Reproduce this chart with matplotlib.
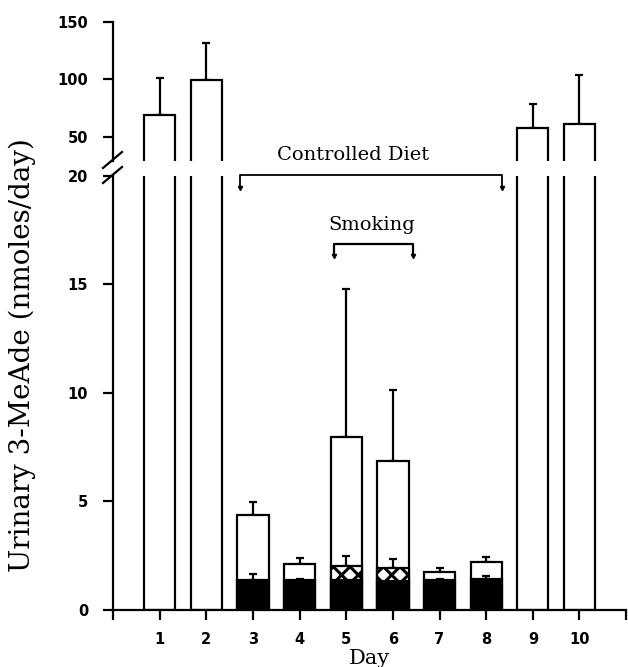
import numpy as np
import matplotlib.pyplot as plt
from matplotlib.lines import Line2D

# Days with the high (top panel) values
days_high = [1, 2, 9, 10]
high_mean = [68.7, 99.7, 57.4, 60.9]
high_err = [32.4, 32.2, 20.9, 42.8]

# Controlled diet days
days_diet = [3, 4, 5, 6, 7, 8]
total_mean = [4.39, 2.13, 7.97, 6.88, 1.77, 2.20]
total_err = [0.57, 0.28, 6.82, 3.26, 0.18, 0.24]
black_mean = [1.37, 1.37, 1.40, 1.35, 1.37, 1.44]
black_err = [0.29, 0.05, 0.0, 0.0, 0.05, 0.14]

# Smoking days (hatched part)
days_smoke = [5, 6]
hatch_mean = [2.04, 1.92]
hatch_err = [0.43, 0.43]

xticks = list(range(0, 12))
xlabels = ["", "1", "2", "3", "4", "5", "6", "7", "8", "9", "10", ""]

plt.rcParams["hatch.linewidth"] = 2.2

fig = plt.figure(figsize=(6.28, 6.67), dpi=100)
ax_top = fig.add_axes([0.180, 0.7586, 0.817, 0.2084])
ax_bot = fig.add_axes([0.180, 0.0855, 0.817, 0.651])

w = 0.67
lw = 1.6
ekw = dict(ecolor="black", elinewidth=lw, capsize=3, capthick=lw)

for ax in (ax_top, ax_bot):
    ax.bar(days_high, high_mean, width=w, color="white", edgecolor="black",
           linewidth=lw, zorder=2)
    ax.errorbar(days_high, high_mean, yerr=[np.zeros(4), high_err], fmt="none",
                zorder=1, **ekw)
    ax.set_xlim(0, 11)
    for s in ("top", "right"):
        ax.spines[s].set_visible(False)
    ax.spines["left"].set_linewidth(lw)
    ax.spines["bottom"].set_linewidth(lw)
    ax.tick_params(axis="both", direction="out", length=7, width=lw)
    ax.tick_params(axis="y", pad=11)
    ax.tick_params(axis="x", pad=9)

# bottom panel: stacked bars
ax_bot.bar(days_diet, total_mean, width=w, color="white", edgecolor="black",
           linewidth=lw, zorder=2)
ax_bot.errorbar(days_diet, total_mean, yerr=[np.zeros(6), total_err], fmt="none",
                zorder=1, **ekw)
ax_bot.bar(days_smoke, hatch_mean, width=w, color="white", edgecolor="black",
           hatch="xx", linewidth=lw, zorder=3)
ax_bot.errorbar(days_smoke, hatch_mean, yerr=[np.zeros(2), hatch_err], fmt="none",
                zorder=2.5, **ekw)
ax_bot.bar(days_diet, black_mean, width=w, color="black", edgecolor="black",
           linewidth=lw, zorder=4)
ax_bot.errorbar(days_diet, black_mean, yerr=[np.zeros(6), black_err], fmt="none",
                zorder=2.6, **ekw)

ax_bot.set_ylim(0, 20)
ax_bot.set_yticks([0, 5, 10, 15, 20])
ax_bot.set_xticks(xticks)
ax_bot.set_xticklabels(xlabels)

ax_top.set_ylim(29, 150)
ax_top.set_yticks([50, 100, 150])
ax_top.spines["bottom"].set_visible(False)
ax_top.set_xticks([])

for ax in (ax_top, ax_bot):
    for lab in ax.get_yticklabels() + ax.get_xticklabels():
        lab.set_fontfamily("DejaVu Sans")
        lab.set_fontweight("bold")
        lab.set_fontsize(10.5)

serif = "DejaVu Serif"
ax_bot.set_xlabel("Day", fontfamily=serif, fontsize=15, labelpad=1)
fig.text(0.035, 0.468, "Urinary 3-MeAde (nmoles/day)", rotation=90,
         ha="center", va="center", fontfamily=serif, fontsize=20)

# brackets
ax_bot.plot([2.72, 2.72, 8.33, 8.33], [19.5, 20.05, 20.05, 19.5], color="black",
            lw=1.3, clip_on=False, zorder=5)
ax_bot.plot([2.72, 8.33], [19.45, 19.45], ls="none", marker="v", ms=3,
            color="black", clip_on=False)
ax_bot.text(5.15, 20.95, "Controlled Diet", ha="center", va="center",
            fontfamily=serif, fontsize=14, clip_on=False)

ax_bot.plot([4.73, 4.73, 6.43, 6.43], [16.35, 16.85, 16.85, 16.35], color="black",
            lw=1.6, zorder=5)
ax_bot.plot([4.73, 6.43], [16.3, 16.3], ls="none", marker="v", ms=3, color="black")
ax_bot.text(5.55, 17.75, "Smoking", ha="center", va="center",
            fontfamily=serif, fontsize=14)

# axis break marks
for y0 in (152, 167):
    x1, x2 = 103 / 628, 122 / 628
    fig.add_artist(Line2D([x1, x2], [1 - (y0 + 16) / 667, 1 - y0 / 667],
                          color="black", lw=lw))

fig.savefig("out.png", dpi=100)
